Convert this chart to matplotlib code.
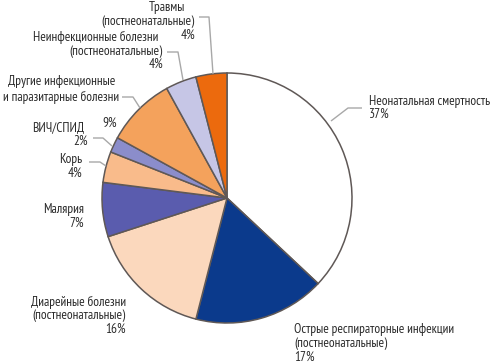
import matplotlib
matplotlib.use("Agg")
import matplotlib.pyplot as plt

categories = [
    "Неонатальная смертность",
    "Острые респираторные инфекции\n(постнеонатальные)",
    "Диарейные болезни\n(постнеонатальные)",
    "Малярия",
    "Корь",
    "ВИЧ/СПИД",
    "Другие инфекционные\nи паразитарные болезни",
    "Неинфекционные болезни\n(постнеонатальные)",
    "Травмы\n(постнеонатальные)",
]
values = [37, 17, 16, 7, 4, 2, 9, 4, 4]
colors = ["#ffffff", "#0b3a8c", "#fbd8bd", "#5a5cae", "#f9bb8b",
          "#8b8dcb", "#f4a25c", "#c6c6e6", "#ec6a0d"]

fam = ["PT Sans Narrow", "DejaVu Sans"]

W, H = 493, 363
fig = plt.figure(figsize=(W / 100, H / 100), dpi=100)
ax = fig.add_axes([0, 0, 1, 1])

cx, cy, r = 227, H - 198, 125
ax.pie(values, colors=colors, startangle=90, counterclock=False,
       center=(cx, cy), radius=r, frame=True,
       wedgeprops=dict(edgecolor="#5f5856", linewidth=1.1))
ax.set_xlim(0, W)
ax.set_ylim(0, H)
ax.set_aspect("equal")
ax.axis("off")

tc = "#2b2b2b"
fs = 9.6

def T(x, y, s, ha="left"):
    ax.text(x, H - y, s, ha=ha, va="center", fontsize=fs, color=tc, family=fam)

# label layout: per category, (x, y, ha) for each line (name lines + percent)
layout = [
    [(369, 101, "left"), (369, 114, "left")],
    [(294, 330, "left"), (294, 343, "left"), (294, 357, "left")],
    [(126, 302, "right"), (126, 316, "right"), (126, 329, "right")],
    [(84, 210, "right"), (84, 223, "right")],
    [(82, 160, "right"), (82, 173, "right")],
    [(84, 128, "right"), (88, 141, "right")],
    [(115, 82, "right"), (119, 97, "right"), (117, 123, "right")],
    [(158, 37, "right"), (163, 51, "right"), (163, 64, "right")],
    [(185, 8, "right"), (195, 22, "right"), (195, 35, "right")],
]
for cat, v, pos in zip(categories, values, layout):
    lines = cat.split("\n") + [f"{v}%"]
    for s, (x, y, ha) in zip(lines, pos):
        T(x, y, s, ha)

lc = "#a8a8a8"
leaders = [
    [(331, 121), (348, 108), (362, 108)],
    [(199, 17), (209, 17), (213, 74)],
    [(167, 52), (178, 52), (183, 80)],
    [(122, 97), (133, 97), (140, 108)],
    [(93, 138), (103, 138), (112, 146)],
    [(89, 162), (100, 162), (106, 166)],
]
for pts in leaders:
    xs = [p[0] for p in pts]
    ys = [H - p[1] for p in pts]
    ax.plot(xs, ys, color=lc, linewidth=1.0, solid_capstyle="butt")

fig.savefig("out.png", dpi=100)
